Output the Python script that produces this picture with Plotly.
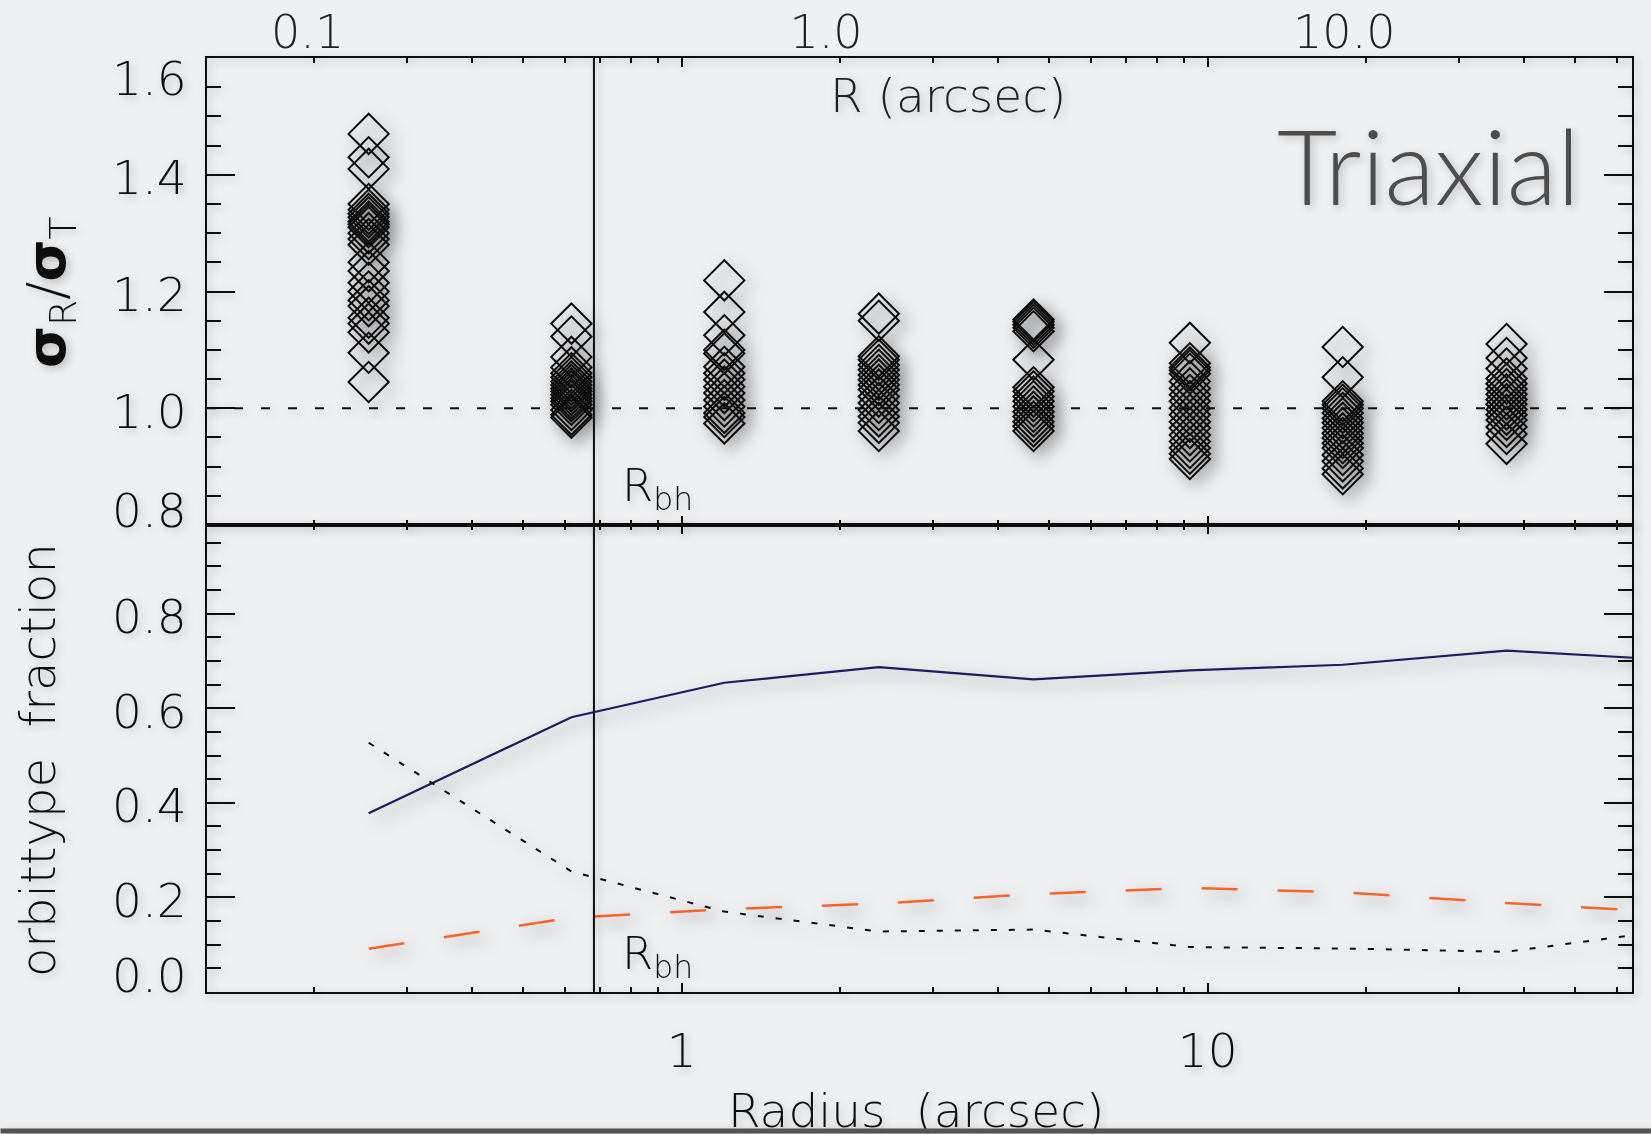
import plotly.graph_objects as go

# ---------------- data ----------------
# radii (arcsec) of the model shells
radii = [0.254, 0.617, 1.205, 2.37, 4.665, 9.25, 18.06, 37.0]

# sigma_R / sigma_T of the individual models at each radius
ratio_r1 = [1.47, 1.43, 1.41, 1.35, 1.34, 1.333, 1.327, 1.32, 1.315, 1.31, 1.30, 1.29,
            1.28, 1.25, 1.235, 1.215, 1.20, 1.185, 1.175, 1.155, 1.145, 1.13, 1.095, 1.045]
ratio_r2 = [1.145, 1.123, 1.088, 1.07, 1.06, 1.053, 1.046, 1.04, 1.034, 1.029, 1.023,
            1.017, 1.012, 1.006, 0.997, 0.989, 0.984]
ratio_r3 = [1.219, 1.165, 1.125, 1.10, 1.094, 1.071, 1.06, 1.049, 1.037, 1.026, 1.014,
            1.003, 0.992, 0.985, 0.974]
ratio_r4 = [1.162, 1.15, 1.089, 1.083, 1.074, 1.066, 1.057, 1.049, 1.04, 1.032, 1.02,
            1.009, 0.997, 0.986, 0.975, 0.961]
ratio_r5 = [1.152, 1.148, 1.143, 1.138, 1.132, 1.083, 1.036, 1.029, 1.02, 1.012, 1.003,
            0.994, 0.986, 0.977, 0.969, 0.961]
ratio_r6 = [1.112, 1.077, 1.07, 1.065, 1.059, 1.046, 1.034, 1.023, 1.012, 1.0, 0.989,
            0.977, 0.966, 0.954, 0.943, 0.932, 0.922, 0.913]
ratio_r7 = [1.105, 1.053, 1.012, 1.006, 1.0, 0.992, 0.983, 0.975, 0.966, 0.957, 0.949,
            0.94, 0.932, 0.92, 0.909, 0.897, 0.887]
ratio_r8 = [1.11, 1.086, 1.068, 1.051, 1.042, 1.033, 1.024, 1.015, 1.007, 0.998, 0.989,
            0.98, 0.968, 0.956, 0.939]
ratio_sets = [ratio_r1, ratio_r2, ratio_r3, ratio_r4, ratio_r5, ratio_r6, ratio_r7, ratio_r8]

# orbit-type fractions (last radius lies just outside the plotted range)
orbit_radii = [0.254, 0.617, 1.205, 2.37, 4.665, 9.25, 18.06, 37.0, 74.0]
frac_solid = [0.378, 0.581, 0.654, 0.687, 0.661, 0.680, 0.692, 0.722, 0.703]
frac_dashed = [0.0915, 0.157, 0.175, 0.187, 0.207, 0.220, 0.211, 0.188, 0.169]
frac_dotted = [0.527, 0.255, 0.170, 0.128, 0.132, 0.095, 0.092, 0.085, 0.129]

r_bh = 0.681

top_ticks = [0.8, 1.0, 1.2, 1.4, 1.6]
bottom_ticks = [0.0, 0.2, 0.4, 0.6, 0.8]
top_scale_ticks = [0.1, 1, 10]
top_scale_text = ["0.1", "1.0", "10.0"]

# ---------------- styling ----------------
W, H = 1651, 1134
L, R, T, B = 207, 1632, 58, 992
FONT = "DejaVu Sans"
FW = 200
TITLE_FONT = "Lato"
BG = "#eff0f2"
INK = "#111111"


def px_x(px):
    return (px - L) / (R - L)


def px_y(py):
    return (B - py) / (B - T)


fig = go.Figure()

# diamonds: sigma_R / sigma_T per model
for r, vals in zip(radii, ratio_sets):
    fig.add_trace(go.Scatter(
        x=[r] * len(vals), y=vals, mode="markers", xaxis="x2", yaxis="y2",
        marker=dict(symbol="diamond-open", size=31, color=INK, line=dict(width=2, color=INK)),
        showlegend=False, hoverinfo="x+y"))

# orbit fractions
fig.add_trace(go.Scatter(x=orbit_radii, y=frac_solid, mode="lines", xaxis="x", yaxis="y",
                         line=dict(color="#1b1b62", width=2.2), showlegend=False))
fig.add_trace(go.Scatter(x=orbit_radii, y=frac_dashed, mode="lines", xaxis="x", yaxis="y",
                         line=dict(color="#fa6428", width=2.5, dash="36px,40px"), showlegend=False))
fig.add_trace(go.Scatter(x=orbit_radii, y=frac_dotted, mode="lines", xaxis="x", yaxis="y",
                         line=dict(color=INK, width=2, dash="6px,12px"), showlegend=False))

# carrier for the secondary (top) radius scale
fig.add_trace(go.Scatter(x=[top_scale_ticks[0], top_scale_ticks[-1]], y=[1.0, 1.0],
                         mode="markers", xaxis="x3", yaxis="y2", marker=dict(opacity=0),
                         hoverinfo="skip", showlegend=False))

xrange_log = [-0.9025, 1.8067]
minor_x = [0.2, 0.3, 0.4, 0.5, 0.6, 0.7, 0.8, 0.9, 2, 3, 4, 5, 6, 7, 8, 9,
           20, 30, 40, 50, 60]
xaxis_common = dict(
    type="log", range=xrange_log, showline=True, linecolor=INK, linewidth=2,
    mirror="ticks", ticks="inside", ticklen=9, tickwidth=2, tickcolor=INK,
    tickvals=[1, 10], showgrid=False, zeroline=False, automargin=False,
    minor=dict(tickvals=minor_x, ticks="inside", ticklen=5, tickwidth=2,
               tickcolor=INK, showgrid=False),
)
yaxis_common = dict(
    showline=True, linecolor=INK, linewidth=2, mirror="ticks", ticks="inside",
    ticklen=28, tickwidth=2, tickcolor=INK, showgrid=False, zeroline=False,
    showticklabels=False, automargin=False,
    minor=dict(dtick=0.05, tick0=0, ticks="inside", ticklen=14, tickwidth=2,
               tickcolor=INK, showgrid=False),
)

fig.update_layout(
    width=W, height=H,
    margin=dict(l=L, r=W - R, t=T, b=H - B),
    paper_bgcolor=BG, plot_bgcolor=BG,
    font=dict(family=FONT, weight=FW, color=INK, size=47),
    xaxis=dict(**xaxis_common, anchor="y", ticktext=["1", "10"], showticklabels=True,
               ticklabelstandoff=17, tickfont=dict(family=FONT, weight=FW, size=47, color=INK)),
    xaxis2=dict(**xaxis_common, anchor="y2", matches="x", showticklabels=False),
    xaxis3=dict(type="log", overlaying="x2", side="top", anchor="y2", automargin=False,
                range=[-1.1941, 1.5550], tickvals=top_scale_ticks, ticktext=top_scale_text,
                ticks="", showline=False, showgrid=False, zeroline=False,
                tickfont=dict(family=FONT, weight=FW, size=46, color="#222")),
    yaxis=dict(**yaxis_common, domain=[0, 0.5], range=[0, 0.9875], tickvals=bottom_ticks),
    yaxis2=dict(**yaxis_common, domain=[0.5, 1], range=[0.8, 1.6], tickvals=top_ticks),
)

# black-hole sphere of influence and the isotropic reference level
fig.add_shape(type="line", xref="x", yref="paper", x0=r_bh, x1=r_bh, y0=0, y1=1,
              line=dict(color=INK, width=2))
fig.add_shape(type="line", xref="paper", yref="y2", x0=0, x1=1, y0=1.0, y1=1.0,
              line=dict(color=INK, width=2, dash="9px,18px"))

ann = []
# y tick labels (end labels tucked inside the panel)
for v in top_ticks:
    shift = {1.6: -20, 0.8: 15}.get(v, -3)
    ann.append(dict(x=0, xref="paper", y=v, yref="y2", text=f"{v:.1f}", showarrow=False,
                    xanchor="right", yanchor="middle", xshift=-18, yshift=shift,
                    font=dict(size=47, color=INK)))
for v in bottom_ticks:
    shift = {0.0: 17}.get(v, -3)
    ann.append(dict(x=0, xref="paper", y=v, yref="y", text=f"{v:.1f}", showarrow=False,
                    xanchor="right", yanchor="middle", xshift=-18, yshift=shift,
                    font=dict(size=47, color=INK)))

ann += [
    dict(x=px_x(948), y=px_y(96), xref="paper", yref="paper", text="R\u00a0(arcsec)",
         showarrow=False, xanchor="center", yanchor="middle", font=dict(size=47, color="#222")),
    dict(x=px_x(1582), y=px_y(165), xref="paper", yref="paper", text="Triaxial",
         showarrow=False, xanchor="right", yanchor="middle",
         font=dict(family=TITLE_FONT, weight=300, size=104, color="#4d4d4d")),
    dict(x=px_x(620), y=px_y(488), xref="paper", yref="paper", text="R<sub>bh</sub>",
         showarrow=False, xanchor="left", yanchor="middle", font=dict(size=45, color=INK)),
    dict(x=px_x(620), y=px_y(956), xref="paper", yref="paper", text="R<sub>bh</sub>",
         showarrow=False, xanchor="left", yanchor="middle", font=dict(size=45, color=INK)),
    dict(x=px_x(50), y=px_y(292), xref="paper", yref="paper",
         text="<b>σ</b><sub>R</sub>/<b>σ</b><sub>T</sub>", textangle=-90,
         showarrow=False, xanchor="center", yanchor="middle", font=dict(size=54, color=INK)),
    dict(x=px_x(38), y=px_y(760), xref="paper", yref="paper",
         text="orbittype\u00a0\u00a0fraction", textangle=-90,
         showarrow=False, xanchor="center", yanchor="middle", font=dict(size=48, color=INK)),
    dict(x=px_x(916), y=px_y(1110), xref="paper", yref="paper", text="Radius\u00a0\u00a0(arcsec)",
         showarrow=False, xanchor="center", yanchor="middle", font=dict(size=47, color=INK)),
    # window edge strip along the bottom
    dict(x=0, y=px_y(1134), xref="paper", yref="paper", text=" ", showarrow=False,
         xanchor="left", yanchor="bottom", width=W, height=4, bgcolor="#555555",
         borderpad=0, xshift=-L),
]
fig.update_layout(annotations=ann)

# soft drop shadows under the marks, and a fainter one under frame and lettering
shadow_js = """
var gd = document.getElementById('{plot_id}');
var ns = 'http://www.w3.org/2000/svg';
var svg = gd.querySelector('svg.main-svg');
var defs = svg.querySelector('defs');
function mkShadow(id, dx, blur, op) {
  if (document.getElementById(id)) return;
  var f = document.createElementNS(ns, 'filter');
  f.setAttribute('id', id);
  f.setAttribute('x', '-100%'); f.setAttribute('y', '-100%');
  f.setAttribute('width', '300%'); f.setAttribute('height', '300%');
  var d = document.createElementNS(ns, 'feDropShadow');
  d.setAttribute('dx', dx); d.setAttribute('dy', dx); d.setAttribute('stdDeviation', blur);
  d.setAttribute('flood-color', '#000'); d.setAttribute('flood-opacity', op);
  f.appendChild(d); defs.appendChild(f);
}
mkShadow('softshadow', 6, 8, 0.5);
mkShadow('faintshadow', 3, 4, 0.22);
gd.querySelectorAll('.scatterlayer .trace').forEach(function (t) {
  t.setAttribute('filter', 'url(#softshadow)');
});
gd.querySelectorAll('.infolayer .annotation, .xaxislayer-above, .yaxislayer-above, ' +
                    '.xlines-above, .ylines-above, .layer-above .shapelayer').forEach(function (t) {
  t.setAttribute('filter', 'url(#faintshadow)');
});
"""

fig.write_html("out.html", post_script=shadow_js)
